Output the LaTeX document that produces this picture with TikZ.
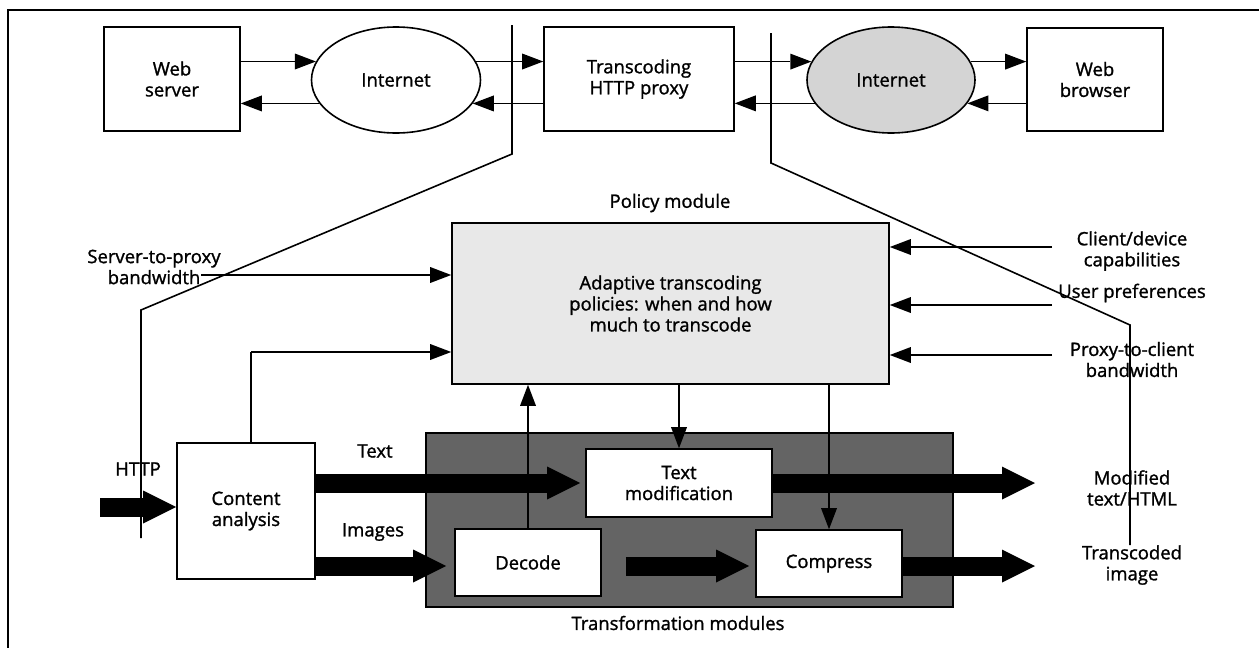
\documentclass[tikz,border=0pt]{standalone}
\usepackage{fontspec}
\setmainfont{Open Sans}[FakeBold=1.3]
\usetikzlibrary{arrows.meta,shapes.geometric}
\newcommand\dfont{\fontsize{18.5}{21}\selectfont}
\definecolor{polfill}{RGB}{232,232,232}
\definecolor{inetfill}{RGB}{212,212,212}
\definecolor{darkfill}{RGB}{100,100,100}
\tikzset{
  box/.style={draw, line width=1.6pt, fill=white, align=center, inner sep=0pt, font=\dfont},
  ell/.style={ellipse, draw, line width=1.6pt, fill=white, align=center, inner sep=0pt, font=\dfont},
  lbl/.style={align=center, inner sep=0pt, font=\dfont},
  tarr/.style={line width=1.6pt, -{Triangle[length=21pt,width=16pt,line width=0pt]}},
  farr/.style={line width=19pt, -{Triangle[length=33pt,width=33pt,line width=0pt]}},
  bline/.style={line width=1.6pt, line join=miter},
}
\begin{document}
\begin{tikzpicture}[x=1pt,y=-1pt]
\useasboundingbox[fill=white] (0,0) rectangle (1259,648);
\draw[line width=1.5pt] (8,648) -- (8,10) -- (1259,10);

% top row
\node[box, minimum width=136pt, minimum height=104pt] (server) at (172,79) {Web\\server};
\node[ell, minimum width=169pt, minimum height=106pt] (inet1) at (396,80) {Internet};
\node[box, minimum width=190pt, minimum height=104pt] (proxy) at (639,79) {Transcoding\\HTTP proxy};
\node[ell, fill=inetfill, minimum width=168pt, minimum height=106pt] (inet2) at (891,80) {Internet};
\node[box, minimum width=136pt, minimum height=103pt] (browser) at (1095,79.5) {Web\\browser};

\draw[tarr] (server.east |- inet1.167) -- (inet1.167);
\draw[tarr] (inet1.197) -- (server.east |- inet1.197);
\draw[tarr] (inet1.13) -- (proxy.west |- inet1.13);
\draw[tarr] (proxy.west |- inet1.343) -- (inet1.343);
\draw[tarr] (proxy.east |- inet2.167) -- (inet2.167);
\draw[tarr] (inet2.197) -- (proxy.east |- inet2.197);
\draw[tarr] (inet2.13) -- (browser.west |- inet2.13);
\draw[tarr] (browser.west |- inet2.343) -- (inet2.343);

% policy module
\node[lbl] (polLbl) at (670,203) {Policy module};
\node[box, fill=polfill, minimum width=437pt, minimum height=161pt] (policy) at (670.5,303.5) {Adaptive transcoding\\policies: when and how\\much to transcode};

\node[lbl] (s2p) at (154,267) {Server-to-proxy\\bandwidth};
\node[lbl] (cdc) at (1132,251) {Client/device\\capabilities};
\node[lbl] (up) at (1132,293) {User preferences};
\node[lbl] (p2c) at (1132,359.5) {Proxy-to-client\\bandwidth};

\coordinate (s2pA) at (201,275);
\draw[tarr] (s2pA) -- (s2pA -| policy.west);
\coordinate (cdcA) at (1052,247);
\coordinate (upA) at (1052,305);
\coordinate (p2cA) at (1052,355);
\draw[tarr] (cdcA) -- (cdcA -| policy.east);
\draw[tarr] (upA) -- (upA -| policy.east);
\draw[tarr] (p2cA) -- (p2cA -| policy.east);

% transformation modules
\node[draw, line width=1.6pt, fill=darkfill, minimum width=527pt, minimum height=174pt, inner sep=0pt] (trans) at (689.5,520) {};
\node[lbl] (trLbl) at (678,623) {Transformation modules};
\node[box, minimum width=186pt, minimum height=68pt] (textmod) at (679,483) {Text\\modification};
\node[box, minimum width=146pt, minimum height=67pt] (decode) at (528,562.5) {Decode};
\node[box, minimum width=146pt, minimum height=67pt] (compress) at (829,563.5) {Compress};

\node[box, minimum width=138pt, minimum height=136pt] (content) at (246,511) {Content\\analysis};

\coordinate (cpA) at (251,352);
\draw[line width=1.6pt] (content.north -| cpA) -- (cpA);
\draw[tarr] (cpA) -- (cpA -| policy.west);
\draw[tarr] (policy.south -| textmod.north) -- (textmod.north);
\draw[tarr] (policy.south -| compress.north) -- (compress.north);
\draw[tarr] (decode.north) -- (decode.north |- policy.south);

% labels
\node[lbl] (http) at (138,469) {HTTP};
\node[lbl] (txtL) at (375,451) {Text};
\node[lbl] (imgL) at (373,532) {Images};
\node[lbl] (modL) at (1132,488) {Modified\\text/HTML};
\node[lbl] (tcL) at (1132,565) {Transcoded\\image};

% fat arrows
\coordinate (httpA) at (100,507);
\coordinate (imgY) at (0,566);
\coordinate (outX) at (1035,0);
\draw[farr] (httpA) -- (httpA -| content.west);
\draw[farr] (content.east |- textmod.west) -- ([xshift=-5pt]textmod.west);
\draw[farr] (content.east |- imgY) -- ([xshift=-8pt]decode.west |- imgY);
\draw[farr] ([xshift=24pt]decode.east |- imgY) -- ([xshift=-6pt]compress.west |- imgY);
\draw[farr] (textmod.east) -- (textmod.east -| outX);
\draw[farr] (compress.east |- imgY) -- (outX |- imgY);

% boundary lines
\draw[bline] (512,25) -- (512,154) -- (141,310) -- (141,538);
\draw[bline] (771,33) -- (771,163) -- (1130,325) -- (1130,545);
\end{tikzpicture}
\end{document}
